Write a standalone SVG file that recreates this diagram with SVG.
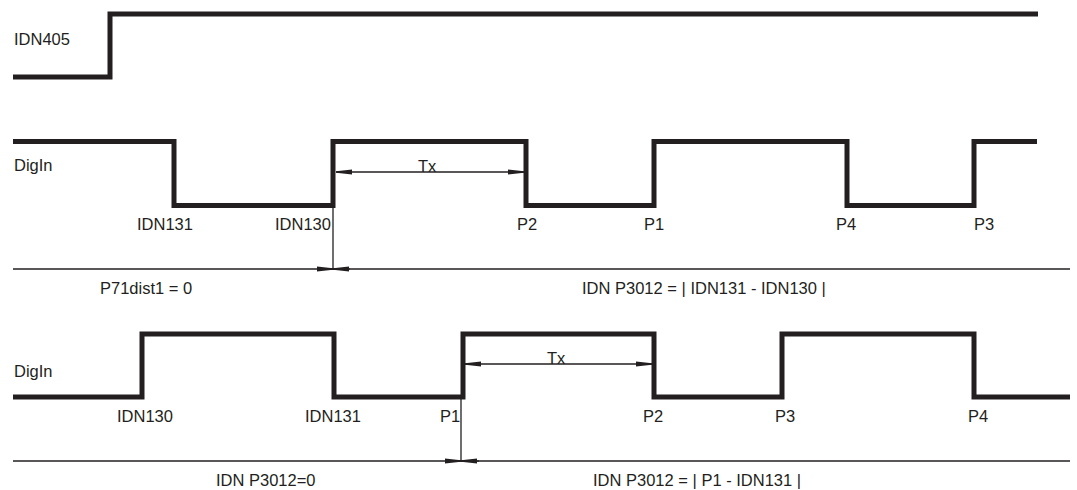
<svg xmlns="http://www.w3.org/2000/svg" width="1077" height="490" viewBox="0 0 1077 490">
<style>
.sig{fill:none;stroke:#231f20;stroke-width:5;stroke-linejoin:miter;stroke-linecap:butt}
.thin{fill:none;stroke:#231f20;stroke-width:1.3}
text{font-family:"Liberation Sans",Arial,sans-serif;font-size:16.5px;fill:#231f20}
</style>
<defs>
<marker id="ah" markerUnits="userSpaceOnUse" markerWidth="18" markerHeight="8" refX="16" refY="3" orient="auto">
<path d="M0,0.6 L16,2.2 L16,3.8 L0,5.4 Z" fill="#231f20"/>
</marker>
</defs>
<rect width="1077" height="490" fill="#fff"/>
<g id="trace-idn405">
<path class="sig" d="M13,77 H110 V14 H1038"/>
<text x="14" y="45">IDN405</text>
</g>
<g id="trace-digin1">
<path class="sig" d="M13,141.5 H174 V205.5 H333 V141.5 H526 V205.5 H654 V141.5 H847 V205.5 H974 V141.5 H1037"/>
<text x="14" y="171">DigIn</text>
<text x="137" y="230">IDN131</text>
<text x="275" y="230">IDN130</text>
<text x="517" y="230">P2</text>
<text x="644" y="230">P1</text>
<text x="836" y="230">P4</text>
<text x="974" y="230">P3</text>
<text x="418" y="172">Tx</text>
</g>
<g id="axis1">
<text x="100" y="294">P71dist1 = 0</text>
<text x="582" y="294">IDN P3012 = | IDN131 - IDN130 |</text>
</g>
<g id="trace-digin2">
<path class="sig" d="M13,397 H142 V334 H334 V397 H463 V334 H654 V397 H782 V334 H974 V397 H1070"/>
<text x="14" y="377">DigIn</text>
<text x="117" y="422">IDN130</text>
<text x="305" y="422">IDN131</text>
<text x="440" y="422">P1</text>
<text x="643" y="422">P2</text>
<text x="775" y="422">P3</text>
<text x="968" y="422">P4</text>
<text x="547" y="364">Tx</text>
</g>
<g id="axis2">
<text x="216" y="486">IDN P3012=0</text>
<text x="593" y="486">IDN P3012 = | P1 - IDN131 |</text>
</g>
<g id="connectors">
<line class="thin" x1="13" y1="269" x2="1070" y2="269"/>
<line class="thin" x1="333" y1="206" x2="333" y2="269"/>
<line class="thin" x1="317" y1="269" x2="333" y2="269" marker-end="url(#ah)"/>
<line class="thin" x1="350" y1="269" x2="333" y2="269" marker-end="url(#ah)"/>
<line class="thin" x1="430" y1="172" x2="336" y2="172" marker-end="url(#ah)"/>
<line class="thin" x1="430" y1="172" x2="524" y2="172" marker-end="url(#ah)"/>
<line class="thin" x1="13" y1="461" x2="1070" y2="461"/>
<line class="thin" x1="461" y1="397" x2="461" y2="461"/>
<line class="thin" x1="445" y1="461" x2="461" y2="461" marker-end="url(#ah)"/>
<line class="thin" x1="479" y1="461" x2="461" y2="461" marker-end="url(#ah)"/>
<line class="thin" x1="558" y1="364" x2="465" y2="364" marker-end="url(#ah)"/>
<line class="thin" x1="558" y1="364" x2="652" y2="364" marker-end="url(#ah)"/>
</g>
</svg>
